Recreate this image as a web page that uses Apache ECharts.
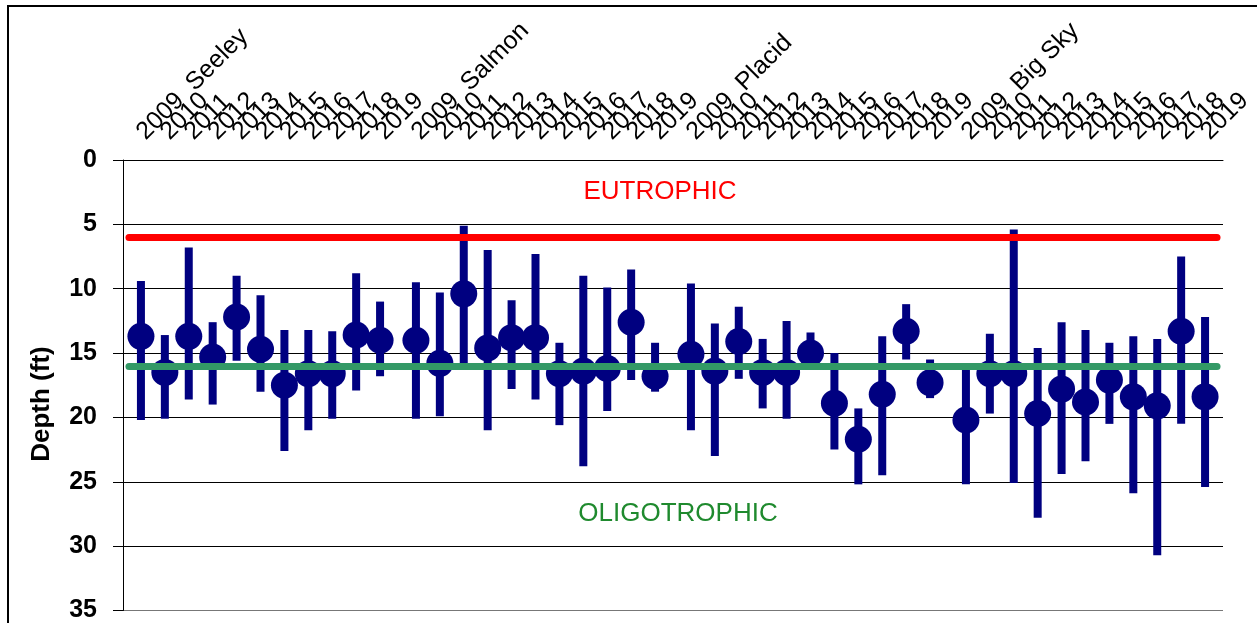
<!DOCTYPE html>
<html>
<head>
<meta charset="utf-8">
<script src="https://cdn.jsdelivr.net/npm/echarts@6/dist/echarts.min.js"></script>
<style>html,body{margin:0;padding:0;background:#fff;}#c{width:1257px;height:623px;}</style>
</head>
<body>
<div id="c"></div>
<script>
// ---- data (depth in ft; top = shallowest, bottom = deepest reading) ----
const lakes = ['Seeley', 'Salmon', 'Placid', 'Big Sky'];
const years = ['2009','2010','2011','2012','2013','2014','2015','2016','2017','2018','2019'];

const seeleyMean = [13.7, 16.5, 13.7, 15.3, 12.2, 14.7, 17.5, 16.6, 16.6, 13.6, 14.0];
const seeleyTop  = [9.4, 13.6, 6.8, 12.6, 9.0, 10.5, 13.2, 13.2, 13.3, 8.8, 11.0];
const seeleyBot  = [20.2, 20.1, 18.6, 19.0, 15.6, 18.0, 22.6, 21.0, 20.1, 17.9, 16.8];

const salmonMean = [14.0, 15.8, 10.4, 14.6, 13.8, 13.8, 16.6, 16.4, 16.2, 12.6, 16.8];
const salmonTop  = [9.5, 10.3, 5.1, 7.0, 10.9, 7.3, 14.2, 9.0, 9.9, 8.5, 14.2];
const salmonBot  = [20.1, 19.9, 15.8, 21.0, 17.8, 18.6, 20.6, 23.8, 19.5, 17.1, 18.0];

const placidMean = [15.1, 16.4, 14.1, 16.5, 16.5, 15.0, 18.9, 21.7, 18.2, 13.3, 17.3];
const placidTop  = [9.6, 12.7, 11.4, 13.9, 12.5, 13.4, 15.0, 19.3, 13.7, 11.2, 15.5];
const placidBot  = [21.0, 23.0, 17.0, 19.3, 20.1, 15.8, 22.5, 25.2, 24.5, 15.5, 18.5];

const bigskyMean = [20.2, 16.6, 16.6, 19.7, 17.8, 18.8, 17.1, 18.4, 19.1, 13.3, 18.4];
const bigskyTop  = [16.2, 13.5, 5.4, 14.6, 12.6, 13.2, 14.2, 13.7, 13.9, 7.5, 12.2];
const bigskyBot  = [25.2, 19.7, 25.1, 27.8, 24.4, 23.4, 20.5, 25.9, 30.7, 20.5, 25.4];

const eutrophicDepth = 6;
const oligotrophicDepth = 16;
const yTicks = [0, 5, 10, 15, 20, 25, 30, 35];

// ---- build category slots (half-year resolution, wider gap between lakes) ----
const meansByLake = [seeleyMean, salmonMean, placidMean, bigskyMean];
const topsByLake = [seeleyTop, salmonTop, placidTop, bigskyTop];
const botsByLake = [seeleyBot, salmonBot, placidBot, bigskyBot];
const LEAD = 1, PER_YEAR = 2, LAKE_STRIDE = 23, TOTAL = 92;
const slotLabels = new Array(TOTAL).fill('');
const meanData = [], barData = [];
lakes.forEach((lake, k) => {
  years.forEach((yr, j) => {
    const s = LEAD + LAKE_STRIDE * k + PER_YEAR * j;
    slotLabels[s] = j === 0 ? yr + '  ' + lake : yr;
    meanData.push([s, meansByLake[k][j]]);
    barData.push([s, topsByLake[k][j], botsByLake[k][j]]);
  });
});

const FONT = 'Liberation Sans, Arial, sans-serif';
const NAVY = '#000080';
const chart = echarts.init(document.getElementById('c'), null, {renderer: 'canvas'});
chart.setOption({
  animation: false,
  backgroundColor: '#fff',
  grid: {left: 123, top: 160, right: 34, bottom: 11, containLabel: false},
  xAxis: {
    type: 'category',
    position: 'top',
    data: slotLabels,
    boundaryGap: true,
    axisLine: {show: true, lineStyle: {color: '#000', width: 1}},
    axisTick: {show: false},
    splitLine: {show: false},
    axisLabel: {interval: 0, rotate: 45, fontSize: 25, color: '#000', fontFamily: FONT, margin: 24}
  },
  yAxis: {
    type: 'value',
    inverse: true,
    min: yTicks[0],
    max: yTicks[yTicks.length - 1],
    interval: 5,
    axisLine: {show: true, lineStyle: {color: '#000', width: 1}},
    axisTick: {show: true, length: 10, lineStyle: {color: '#000'}},
    axisLabel: {fontSize: 25, fontWeight: 'bold', color: '#000', fontFamily: FONT, margin: 26},
    splitLine: {show: true, lineStyle: {color: ['#000','#000','#000','#000','#000','#000','#000','#777'], width: 1}}
  },
  series: [
    {
      type: 'line', data: [], z: 1,
      markLine: {
        silent: true, symbol: 'none', label: {show: false},
        lineStyle: {color: '#ff0000', width: 7, type: 'solid', cap: 'round'},
        data: [[{coord: [0, eutrophicDepth]}, {coord: [TOTAL - 1, eutrophicDepth]}]]
      }
    },
    {
      type: 'custom', z: 2,
      data: barData,
      encode: {x: 0, y: [1, 2]},
      renderItem: function (params, api) {
        const p1 = api.coord([api.value(0), api.value(1)]);
        const p2 = api.coord([api.value(0), api.value(2)]);
        const w = 8;
        return {type: 'rect', shape: {x: p1[0] - w / 2, y: p1[1], width: w, height: p2[1] - p1[1]},
                style: {fill: NAVY}};
      }
    },
    {
      type: 'scatter', z: 3,
      data: meanData,
      symbol: 'circle', symbolSize: 27,
      itemStyle: {color: NAVY, opacity: 1}
    },
    {
      type: 'line', data: [], z: 4,
      markLine: {
        silent: true, symbol: 'none', label: {show: false},
        lineStyle: {color: '#339966', width: 7, type: 'solid', cap: 'round'},
        data: [[{coord: [0, oligotrophicDepth]}, {coord: [TOTAL - 1, oligotrophicDepth]}]]
      }
    }
  ],
  graphic: [
    {type: 'rect', shape: {x: 8, y: 6, width: 1400, height: 800}, style: {fill: null, stroke: '#000', lineWidth: 2}, silent: true, z: 10},
    {type: 'text', x: 42, y: 404, rotation: Math.PI / 2, style: {text: 'Depth (ft)', fill: '#000', font: 'bold 26px ' + FONT, textAlign: 'center', textVerticalAlign: 'middle'}, z: 10},
    {type: 'text', x: 660, y: 192, style: {text: 'EUTROPHIC', fill: '#ff0000', font: '26px ' + FONT, textAlign: 'center', textVerticalAlign: 'middle'}, z: 10},
    {type: 'text', x: 678, y: 514, style: {text: 'OLIGOTROPHIC', fill: '#1f8a2e', font: '26px ' + FONT, textAlign: 'center', textVerticalAlign: 'middle'}, z: 10}
  ]
});
</script>
</body>
</html>
